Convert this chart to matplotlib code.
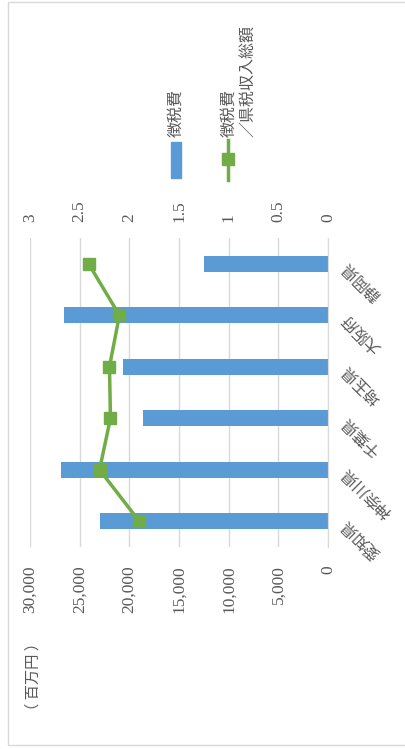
import numpy as np
import matplotlib
matplotlib.use('Agg')
import matplotlib.pyplot as plt
from matplotlib.patches import Rectangle
from matplotlib.lines import Line2D
from matplotlib.ticker import FuncFormatter

plt.rcParams['font.family'] = ['Liberation Serif', 'Noto Sans CJK JP', 'DejaVu Sans']

# data (chart is drawn turned a quarter turn, as in the source image)
categories = ['愛知県', '神奈川県', '千葉県', '埼玉県', '大阪府', '静岡県']
cost = [23000, 26850, 18650, 20650, 26600, 12450]      # 徴税費 (百万円)
ratio = [1.90, 2.30, 2.19, 2.20, 2.10, 2.41]           # 徴税費／県税収入総額
cost_ticks = [0, 5000, 10000, 15000, 20000, 25000, 30000]
ratio_ticks = [0, 0.5, 1, 1.5, 2, 2.5, 3]

blue = '#5B9BD5'
green = '#70AD47'
txt = '#595959'
grid_c = '#D9D9D9'
cjk = ['Noto Sans CJK JP', 'DejaVu Sans']


def main():
    fig = plt.figure(figsize=(4.06, 7.49), dpi=100)
    ax = fig.add_axes([30 / 406, 1 - 547 / 749, 298 / 406, 309 / 749])
    pos = np.arange(len(categories))

    ax.barh(pos, cost, height=0.305, color=blue, zorder=2)
    ax.set_xlim(30000, 0)
    ax.set_ylim(-0.5, len(categories) - 0.5)
    ax.set_xticks(cost_ticks)
    ax.xaxis.set_major_formatter(FuncFormatter(lambda v, p: f'{int(v):,}'))
    ax.tick_params(axis='x', length=0, pad=13, labelsize=12.5, labelcolor=txt, labelrotation=90)
    ax.grid(axis='x', color=grid_c, lw=1, zorder=0)
    ax.set_axisbelow(True)

    ax.yaxis.tick_right()
    ax.set_yticks(pos)
    ax.set_yticklabels(categories)
    ax.tick_params(axis='y', length=0, pad=12, labelsize=11.5, labelcolor=txt)
    for lab in ax.get_yticklabels():
        lab.set_rotation(135)
        lab.set_rotation_mode('anchor')
        lab.set_ha('right')
        lab.set_va('center')
    for s in ['top', 'bottom', 'left']:
        ax.spines[s].set_visible(False)
    ax.spines['right'].set_color(grid_c)

    ax2 = ax.twiny()
    ax2.plot(ratio, pos, color=green, lw=2.5, marker='s', markersize=8.5, zorder=3)
    ax2.set_xlim(3, 0)
    ax2.set_xticks(ratio_ticks)
    ax2.set_xticklabels([f'{t:g}' for t in ratio_ticks])
    ax2.tick_params(axis='x', length=0, pad=11.5, labelsize=12.5, labelcolor=txt, labelrotation=90)
    for s in ax2.spines.values():
        s.set_visible(False)

    # unit label
    fig.text(33 / 406, 1 - 677 / 749, '（ 百万円 ）', rotation=90, ha='center', va='center',
             fontsize=11, color=txt, family=cjk)

    # legend, drawn by hand since it is turned too
    fig.patches.append(Rectangle((171 / 406, 1 - 178 / 749), 10 / 406, 36 / 749,
                                 transform=fig.transFigure, color=blue))
    fig.text(176 / 406, 1 - 137 / 749, '徴税費', rotation=90, ha='center', va='bottom',
             fontsize=11.5, color=txt, family=cjk)
    fig.lines.append(Line2D([228 / 406, 228 / 406], [1 - 180 / 749, 1 - 140 / 749],
                            transform=fig.transFigure, color=green, lw=2.5))
    fig.lines.append(Line2D([228 / 406], [1 - 159 / 749], transform=fig.transFigure,
                            color=green, marker='s', markersize=8.5))
    fig.text(238.5 / 406, 1 - 137 / 749, '徴税費\n／県税収入総額', rotation=90, ha='center',
             va='bottom', multialignment='left', linespacing=1.25, fontsize=11.5, color=txt,
             family=cjk)

    # chart frame
    fig.patches.append(Rectangle((8.5 / 406, 4 / 749), 1.2, 743.5 / 749, transform=fig.transFigure,
                                 fill=False, edgecolor=grid_c, lw=1))

    fig.savefig('out.png', dpi=100)


if __name__ == '__main__':
    main()
